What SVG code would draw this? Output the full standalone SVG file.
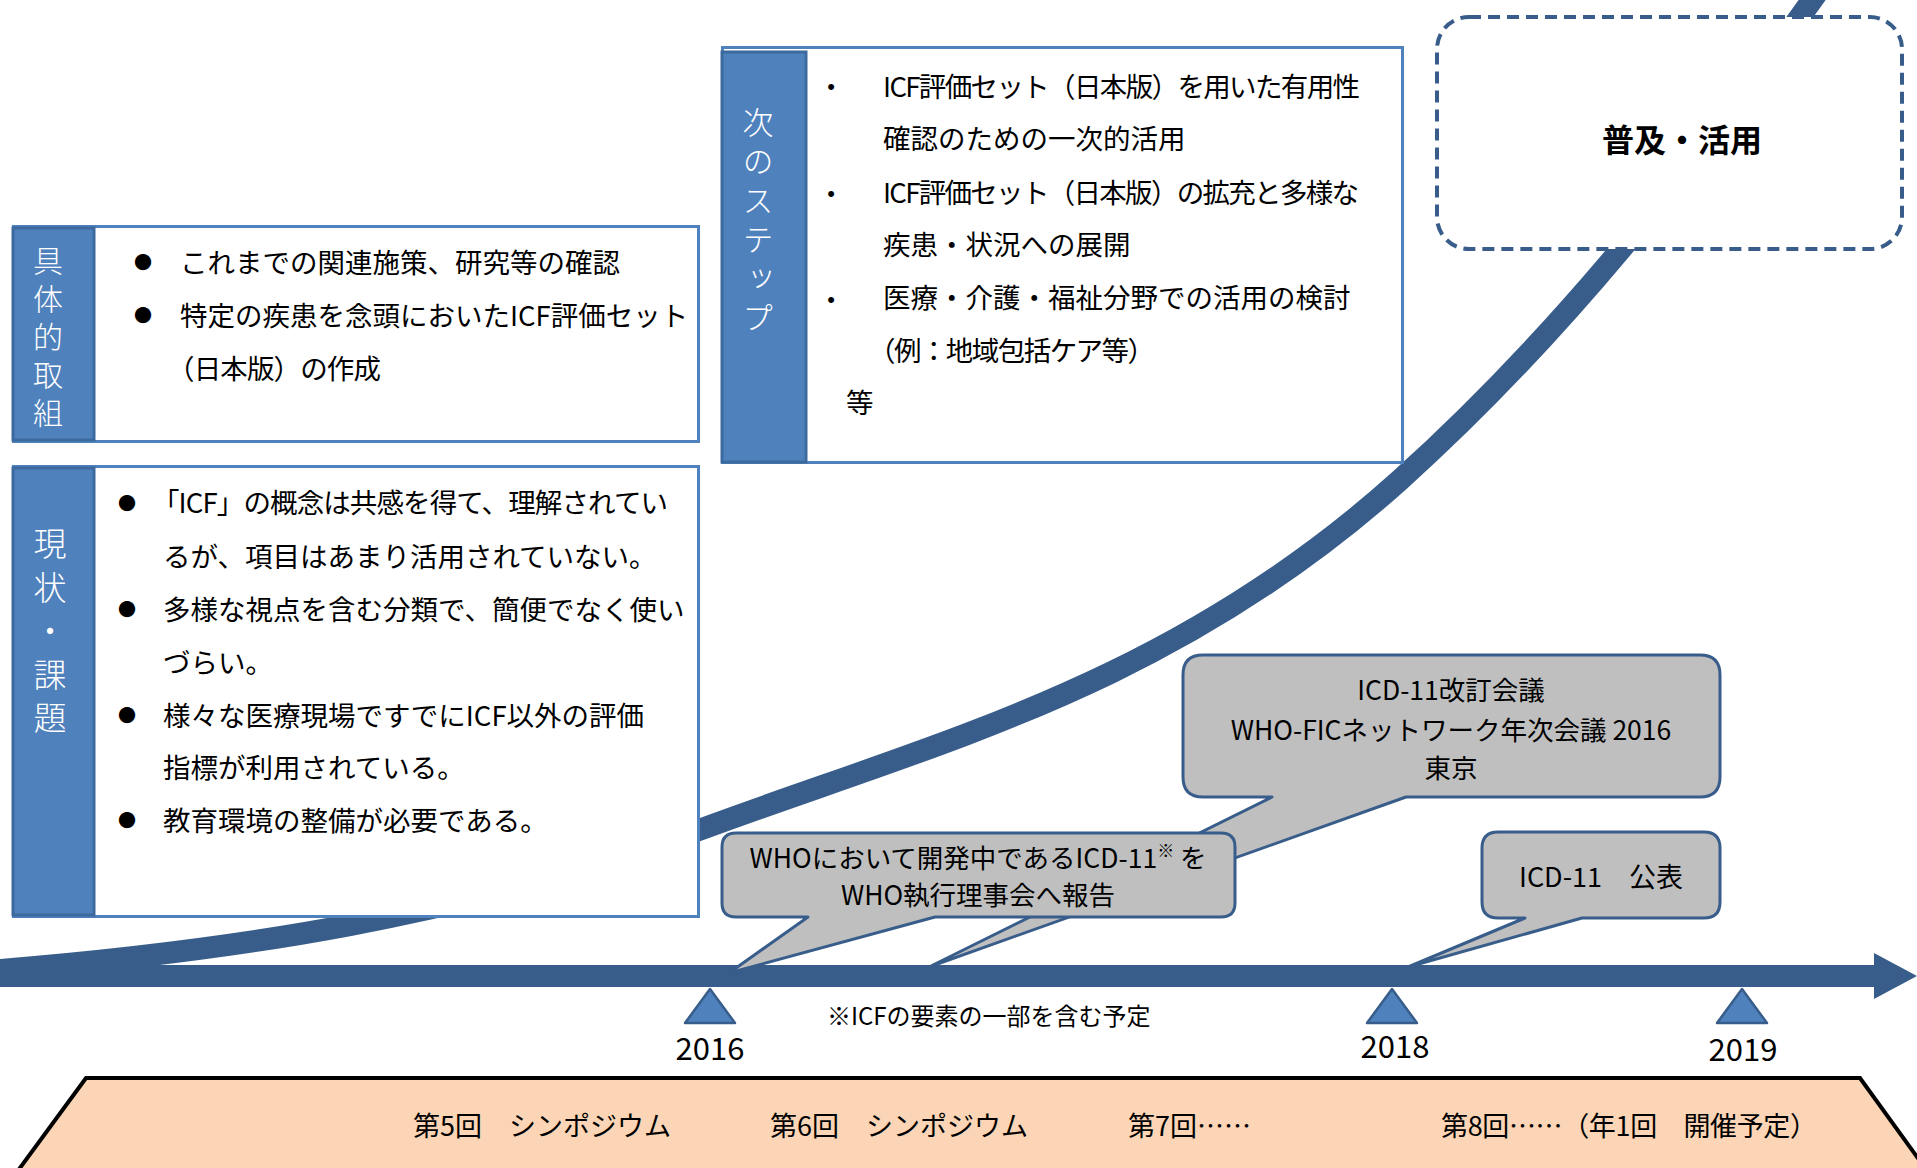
<svg xmlns="http://www.w3.org/2000/svg" width="1917" height="1168" viewBox="0 0 1917 1168">
<defs>
<style>
.t{font-family:"Noto Sans CJK JP","Noto Sans",sans-serif;fill:#000;}
.body{font-size:27.5px;}
.vlab{font-family:"Noto Sans CJK JP","Noto Sans",sans-serif;fill:#fff;font-weight:300;writing-mode:vertical-rl;}
.box{fill:#fff;stroke:#4f81bd;stroke-width:3;}
.bar{fill:#4f81bd;stroke:#3d6a9e;stroke-width:3;}
.callout{fill:#bfbfbf;stroke:#385d8a;stroke-width:3;stroke-linejoin:round;}
.yr{fill:#4f81bd;stroke:#385d8a;stroke-width:2.5;stroke-linejoin:round;}
.bul{font-family:"Noto Sans CJK JP",sans-serif;font-size:18px;text-anchor:middle;fill:#000;}
.dot{font-family:"Liberation Sans",sans-serif;font-size:22px;text-anchor:middle;fill:#000;}
.mid{text-anchor:middle;}
</style>
<marker id="arrow" markerUnits="userSpaceOnUse" markerWidth="44" markerHeight="48" refX="0" refY="23" orient="auto">
<path d="M0,0 L43,23 L0,46 Z" fill="#385d8a"/>
</marker>
</defs>
<rect width="1917" height="1168" fill="#fff"/>

<g id="connectors">
<path id="growth-curve" d="M 0,970 C 233,951 466,916 699,830 C 933,743 1170,687 1400,480 C 1560,336 1690,172 1830,-25" fill="none" stroke="#385d8a" stroke-width="22"/>
<line id="timeline" x1="0" y1="976" x2="1874" y2="976" stroke="#385d8a" stroke-width="22" marker-end="url(#arrow)"/>
</g>

<g id="box-torikumi">
<rect class="box" x="13.5" y="226.5" width="685" height="215"/>
<rect class="bar" x="13" y="228" width="81" height="212"/>
<text class="vlab" x="48" y="246" font-size="30" letter-spacing="8">具体的取組</text>
<text class="bul" x="143" y="269">●</text>
<text class="bul" x="143" y="322">●</text>
<text class="t body" x="180" y="273">これまでの関連施策、研究等の確認</text>
<text class="t body" x="180" y="326">特定の疾患を念頭においたICF評価セット</text>
<text class="t body" x="167" y="379" textLength="214">（日本版）の作成</text>
</g>

<g id="box-genjo">
<rect class="box" x="13.5" y="466.5" width="685" height="450"/>
<rect class="bar" x="13" y="468" width="81" height="447"/>
<text class="vlab" x="50" y="527" font-size="33" letter-spacing="10.5">現状・課題</text>
<text class="bul" x="127" y="510">●</text>
<text class="bul" x="127" y="616">●</text>
<text class="bul" x="127" y="722">●</text>
<text class="bul" x="127" y="827">●</text>
<text class="t body" x="152" y="513" textLength="516">「ICF」の概念は共感を得て、理解されてい</text>
<text class="t body" x="163" y="567">るが、項目はあまり活用されていない。</text>
<text class="t body" x="163" y="620">多様な視点を含む分類で、簡便でなく使い</text>
<text class="t body" x="163" y="673">づらい。</text>
<text class="t body" x="163" y="726">様々な医療現場ですでにICF以外の評価</text>
<text class="t body" x="163" y="778">指標が利用されている。</text>
<text class="t body" x="163" y="831">教育環境の整備が必要である。</text>
</g>

<g id="box-next">
<rect class="box" x="722.5" y="47.5" width="680" height="415"/>
<rect class="bar" x="722" y="52" width="84" height="410"/>
<text class="vlab" x="758" y="107" font-size="31" letter-spacing="8">次のステップ</text>
<text class="dot" x="831" y="94">•</text>
<text class="dot" x="831" y="201">•</text>
<text class="dot" x="831" y="307">•</text>
<text class="t body" x="883" y="97" textLength="477">ICF評価セット（日本版）を用いた有用性</text>
<text class="t body" x="883" y="149">確認のための一次的活用</text>
<text class="t body" x="883" y="203" textLength="476">ICF評価セット（日本版）の拡充と多様な</text>
<text class="t body" x="883" y="255">疾患・状況への展開</text>
<text class="t body" x="883" y="308">医療・介護・福祉分野での活用の検討</text>
<text class="t body" x="868" y="361" textLength="287">（例：地域包括ケア等）</text>
<text class="t body" x="846" y="413">等</text>
</g>

<g id="box-fukyu">
<rect x="1437" y="17" width="465" height="232" rx="32" ry="32" fill="#fff" stroke="#385d8a" stroke-width="4" stroke-dasharray="12 7"/>
<text class="t mid" x="1682" y="152" font-size="32" font-weight="bold">普及・活用</text>
</g>

<g id="callout-icd-meeting">
<path class="callout" d="M 1203,655 H 1700 Q 1720,655 1720,675 V 777 Q 1720,797 1700,797 H 1406 L 929,967 L 1272,797 H 1203 Q 1183,797 1183,777 V 675 Q 1183,655 1203,655 Z"/>
<text class="t mid" x="1451" y="700" font-size="26.5">ICD-11改訂会議</text>
<text class="t mid" x="1451" y="740" font-size="26.5">WHO-FICネットワーク年次会議 2016</text>
<text class="t mid" x="1451" y="778" font-size="26.5">東京</text>
</g>

<g id="callout-who-report">
<path class="callout" d="M 736,833 H 1221 Q 1235,833 1235,847 V 903 Q 1235,917 1221,917 H 935 L 729,973 L 808,917 H 736 Q 722,917 722,903 V 847 Q 722,833 736,833 Z"/>
<text class="t mid" x="978" y="867.5" font-size="26.5">WHOにおいて開発中であるICD-11<tspan font-size="17" dy="-11">※</tspan><tspan dy="11"> を</tspan></text>
<text class="t mid" x="978" y="905" font-size="26.5">WHO執行理事会へ報告</text>
</g>

<g id="callout-icd-publish">
<path class="callout" d="M 1498,832 H 1704 Q 1720,832 1720,848 V 902 Q 1720,918 1704,918 H 1582 L 1408,967 L 1525,918 H 1498 Q 1482,918 1482,902 V 848 Q 1482,832 1498,832 Z"/>
<text class="t mid" x="1601" y="887" font-size="27">ICD-11　公表</text>
</g>

<g id="year-2016">
<polygon class="yr" points="710,989 685,1023 735,1023"/>
<text class="t mid" x="710" y="1060" font-size="31">2016</text>
</g>
<g id="year-2018">
<polygon class="yr" points="1392,989 1367,1023 1417,1023"/>
<text class="t mid" x="1395" y="1058" font-size="31">2018</text>
</g>
<g id="year-2019">
<polygon class="yr" points="1742,989 1717,1023 1767,1023"/>
<text class="t mid" x="1743" y="1061" font-size="31">2019</text>
</g>

<g id="note">
<text class="t" x="827" y="1025" font-size="24">※ICFの要素の一部を含む予定</text>
</g>

<g id="symposium-band">
<polygon points="86,1078 1860,1078 1928,1172 17,1172" fill="#fbd5b5" stroke="#000" stroke-width="4" stroke-linejoin="miter"/>
<text class="t" x="413" y="1136" font-size="27">第5回　シンポジウム</text>
<text class="t" x="770" y="1136" font-size="27">第6回　シンポジウム</text>
<text class="t" x="1128" y="1136" font-size="27">第7回……</text>
<text class="t" x="1441" y="1136" font-size="27" textLength="376">第8回……（年1回　開催予定）</text>
</g>
</svg>
